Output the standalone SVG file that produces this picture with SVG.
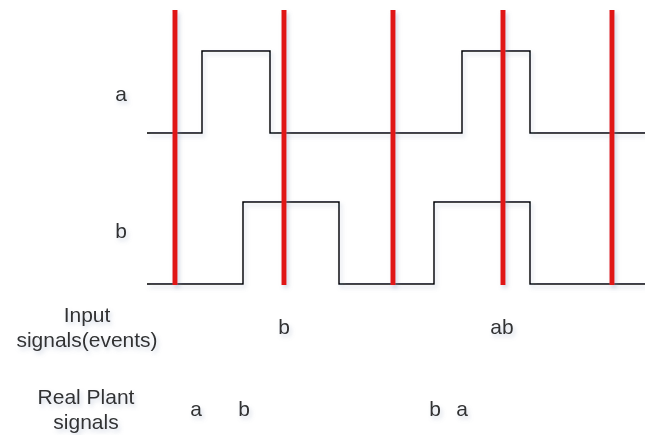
<svg xmlns="http://www.w3.org/2000/svg" width="645" height="435" viewBox="0 0 645 435">
  <defs>
    <filter id="sh" filterUnits="userSpaceOnUse" x="0" y="0" width="645" height="435">
      <feDropShadow dx="2" dy="3" stdDeviation="2" flood-color="#8090b0" flood-opacity="0.35"/>
    </filter>
    <style>
      .sig { fill: none; stroke: #000; stroke-width: 1.5; filter: url(#sh); }
      .mark { stroke: #e01515; stroke-width: 5; filter: url(#sh); }
      text { font-family: "Liberation Sans", Arial, sans-serif; font-size: 21px; fill: #333; text-anchor: middle; filter: url(#sh); }
    </style>
  </defs>
  <rect width="645" height="435" fill="#fff"/>
  <g id="signal-a">
    <polyline class="sig" points="147,133 202,133 202,51 270,51 270,133 462,133 462,51 530,51 530,133 645,133"/>
    <text x="121" y="101">a</text>
  </g>
  <g id="signal-b">
    <polyline class="sig" points="147,284 243,284 243,202 339,202 339,284 434,284 434,202 530,202 530,284 645,284"/>
    <text x="121" y="238">b</text>
  </g>
  <g id="sample-lines">
    <line class="mark" x1="175" y1="10" x2="175" y2="285"/>
    <line class="mark" x1="284" y1="10" x2="284" y2="285"/>
    <line class="mark" x1="393" y1="10" x2="393" y2="285"/>
    <line class="mark" x1="503" y1="10" x2="503" y2="285"/>
    <line class="mark" x1="612" y1="10" x2="612" y2="285"/>
  </g>
  <g id="input-row">
    <text x="87" y="322">Input</text>
    <text x="87" y="347">signals(events)</text>
    <text x="284" y="334">b</text>
    <text x="502" y="334">ab</text>
  </g>
  <g id="plant-row">
    <text x="86" y="404">Real Plant</text>
    <text x="86" y="429">signals</text>
    <text x="196" y="416">a</text>
    <text x="244" y="416">b</text>
    <text x="435" y="416">b</text>
    <text x="462" y="416">a</text>
  </g>
</svg>
